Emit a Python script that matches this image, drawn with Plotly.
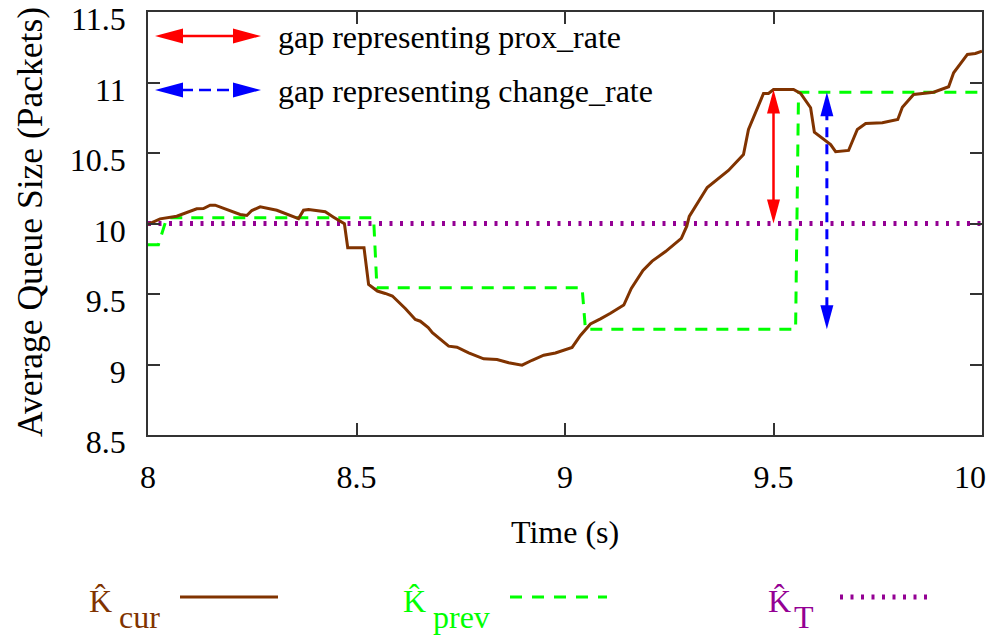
import plotly.graph_objects as go

# ---------------- data ----------------
t_cur = [8.000, 8.029, 8.069, 8.093, 8.117, 8.133, 8.149, 8.161, 8.189, 8.221,
         8.237, 8.249, 8.269, 8.309, 8.361, 8.373, 8.385, 8.425, 8.445, 8.471,
         8.479, 8.518, 8.529, 8.550, 8.569, 8.586, 8.617, 8.641, 8.653, 8.672,
         8.682, 8.701, 8.721, 8.741, 8.769, 8.805, 8.837, 8.865, 8.897, 8.921,
         8.949, 8.977, 9.017, 9.037, 9.061, 9.085, 9.109, 9.141, 9.159, 9.187,
         9.209, 9.241, 9.279, 9.292, 9.298, 9.341, 9.392, 9.428, 9.440, 9.476,
         9.488, 9.500, 9.548, 9.565, 9.589, 9.598, 9.625, 9.637, 9.649, 9.680,
         9.701, 9.721, 9.761, 9.798, 9.809, 9.836, 9.884, 9.920, 9.932, 9.965,
         9.984, 10.000]
k_cur = [9.993, 10.033, 10.052, 10.076, 10.104, 10.106, 10.130, 10.130, 10.099, 10.064,
         10.057, 10.092, 10.118, 10.094, 10.035, 10.094, 10.099, 10.083, 10.045, 9.998,
         9.828, 9.828, 9.567, 9.521, 9.504, 9.486, 9.397, 9.319, 9.307, 9.262,
         9.225, 9.177, 9.130, 9.123, 9.083, 9.040, 9.035, 9.012, 8.995, 9.030,
         9.066, 9.082, 9.121, 9.206, 9.287, 9.324, 9.363, 9.422, 9.539, 9.667,
         9.733, 9.801, 9.895, 9.981, 10.050, 10.255, 10.376, 10.489, 10.667, 10.922,
         10.922, 10.950, 10.950, 10.922, 10.821, 10.648, 10.584, 10.560, 10.509, 10.518,
         10.667, 10.709, 10.714, 10.738, 10.825, 10.915, 10.931, 10.970, 11.069, 11.199,
         11.206, 11.222]

t_prev = [8.000, 8.025, 8.045, 8.541, 8.549, 9.041, 9.049, 9.553, 9.560, 10.000]
k_prev = [9.850, 9.850, 10.040, 10.040, 9.545, 9.545, 9.250, 9.250, 10.930, 10.930]

t_target = [8.0, 10.0]
k_target = [10.0, 10.0]

# gap arrows (time, [from, to])
prox_gap_t = 9.50
prox_gap_k = [10.0, 10.95]
change_gap_t = 9.628
change_gap_k = [9.25, 10.93]

x_ticks = [8, 8.5, 9, 9.5, 10]
x_ticklabels = ["8", "8.5", "9", "9.5", "10\u00a0\u00a0\u00a0"]
y_ticks = [8.5, 9, 9.5, 10, 10.5, 11, 11.5]
y_ticklabels = ["8.5", "9", "9.5", "10", "10.5", "11", "11.5"]

legend_gap_labels = ["gap representing prox_rate", "gap representing change_rate"]
legend_series = [("K\u0302", "cur"), ("K\u0302", "prev"), ("K\u0302", "T")]

# ---------------- style / layout ----------------
W, H = 989, 635
PL, PT, PW, PH = 148, 12, 834, 423
XR = [8, 10]
YR = [8.5, 11.5]
FONT = "Liberation Serif, Times New Roman, serif"
FS = 32
BROWN = "#803300"
GREEN = "#00ff00"
PURPLE = "#940094"
RED = "#ff0000"
BLUE = "#0000ff"
AXC = "#333333"


def px2paper(px, py):
    return (px - PL) / PW, (PT + PH - py) / PH


def data2px(t, k):
    return (PL + (t - XR[0]) / (XR[1] - XR[0]) * PW,
            PT + (YR[1] - k) / (YR[1] - YR[0]) * PH)


shapes = []
annotations = []


def head(tip, base_dir, length, half_w, color):
    tx, ty = tip
    dx, dy = base_dir  # unit vector pointing from tip to base
    bx, by = tx + dx * length, ty + dy * length
    nx, ny = -dy, dx
    pts = [(tx, ty), (bx + nx * half_w, by + ny * half_w), (bx - nx * half_w, by - ny * half_w)]
    pp = [px2paper(*p) for p in pts]
    path = "M {:.5f},{:.5f} L {:.5f},{:.5f} L {:.5f},{:.5f} Z".format(*pp[0], *pp[1], *pp[2])
    shapes.append(dict(type="path", xref="paper", yref="paper", path=path,
                       fillcolor=color, line=dict(width=0), layer="above"))
    return bx, by


def double_arrow(p1, p2, color, dash, length, half_w, width):
    x1, y1 = p1
    x2, y2 = p2
    d = ((x2 - x1) ** 2 + (y2 - y1) ** 2) ** 0.5
    ux, uy = (x2 - x1) / d, (y2 - y1) / d
    b1 = head(p1, (ux, uy), length, half_w, color)
    b2 = head(p2, (-ux, -uy), length, half_w, color)
    a = px2paper(b1[0] - ux * 2, b1[1] - uy * 2)
    b = px2paper(b2[0] + ux * 2, b2[1] + uy * 2)
    shapes.append(dict(type="line", xref="paper", yref="paper", x0=a[0], y0=a[1], x1=b[0], y1=b[1],
                       line=dict(color=color, width=width, dash=dash), layer="above"))


# gap arrows inside the plot (from data)
double_arrow(data2px(prox_gap_t, prox_gap_k[0]), data2px(prox_gap_t, prox_gap_k[1]),
             RED, "solid", 24, 6.5, 2.5)
double_arrow(data2px(change_gap_t, change_gap_k[0]), data2px(change_gap_t, change_gap_k[1]),
             BLUE, "10px,7px", 24, 6.5, 3)

# top-left legend
for i, (lab, col, dash) in enumerate(zip(legend_gap_labels, [RED, BLUE], ["solid", "12px,6px"])):
    yy = 36 + i * 54
    double_arrow((155, yy), (261, yy), col, dash, 28, 7.5, 2.5)
    ax_, ay_ = px2paper(276, yy + 1)
    annotations.append(dict(x=ax_, y=ay_, xref="paper", yref="paper", text=lab, showarrow=False,
                            xanchor="left", yanchor="middle", font=dict(family=FONT, size=FS, color="black")))

# bottom legend for series
leg_cols = [BROWN, GREEN, PURPLE]
leg_k_x = [100, 414, 779]
leg_sub_x = [117, 431, 792]
leg_line = [(180, 278), (510, 607), (840, 930)]
leg_dash = ["solid", "12px,10px", "3px,7.5px"]
leg_w = [3, 3, 5]
for (kk, sub), c, kx, sx, (l0, l1), ds, lw in zip(legend_series, leg_cols, leg_k_x, leg_sub_x,
                                                   leg_line, leg_dash, leg_w):
    p = px2paper(kx, 601)
    annotations.append(dict(x=p[0], y=p[1], xref="paper", yref="paper", text=kk, showarrow=False,
                            xanchor="center", yanchor="middle", font=dict(family=FONT, size=FS, color=c)))
    p = px2paper(sx, 617)
    annotations.append(dict(x=p[0], y=p[1], xref="paper", yref="paper", text=sub, showarrow=False,
                            xanchor="left", yanchor="middle", font=dict(family=FONT, size=FS, color=c)))
    a = px2paper(l0, 597)
    b = px2paper(l1, 597)
    shapes.append(dict(type="line", xref="paper", yref="paper", x0=a[0], y0=a[1], x1=b[0], y1=b[1],
                       line=dict(color=c, width=lw, dash=ds)))

# axis titles
p = px2paper(565, 532)
annotations.append(dict(x=p[0], y=p[1], xref="paper", yref="paper", text="Time (s)", showarrow=False,
                        xanchor="center", yanchor="middle", font=dict(family=FONT, size=FS, color="black")))
p = px2paper(30, 222)
annotations.append(dict(x=p[0], y=p[1], xref="paper", yref="paper", text="Average Queue Size (Packets)",
                        showarrow=False, textangle=-90, xanchor="center", yanchor="middle",
                        font=dict(family=FONT, size=35.5, color="black")))

fig = go.Figure()
fig.add_trace(go.Scatter(x=t_target, y=k_target, mode="lines",
                         line=dict(color=PURPLE, width=5, dash="3px,7.5px"), showlegend=False))
fig.add_trace(go.Scatter(x=t_prev, y=k_prev, mode="lines",
                         line=dict(color=GREEN, width=3, dash="12px,9px"), showlegend=False))
fig.add_trace(go.Scatter(x=t_cur, y=k_cur, mode="lines",
                         line=dict(color=BROWN, width=3), showlegend=False))

axis_common = dict(showgrid=False, zeroline=False, showline=True, linecolor=AXC, linewidth=1.5,
                   ticks="inside", ticklen=12, tickwidth=1.5, tickcolor=AXC, mirror="ticks",
                   ticklabeloverflow="allow", automargin=False,
                   tickfont=dict(family=FONT, size=FS, color="black"))
fig.update_layout(
    width=W, height=H,
    font=dict(family=FONT, size=FS, color="black"),
    margin=dict(l=PL, r=W - PL - PW, t=PT, b=H - PT - PH, autoexpand=False),
    paper_bgcolor="white", plot_bgcolor="white",
    xaxis=dict(range=XR, tickvals=x_ticks, ticktext=x_ticklabels, ticklabelstandoff=13, **axis_common),
    yaxis=dict(range=YR, tickvals=y_ticks, ticktext=y_ticklabels, ticklabelstandoff=14,
               ticklabelshift=7, **axis_common),
    shapes=shapes, annotations=annotations,
)
fig.write_html("out.html")
